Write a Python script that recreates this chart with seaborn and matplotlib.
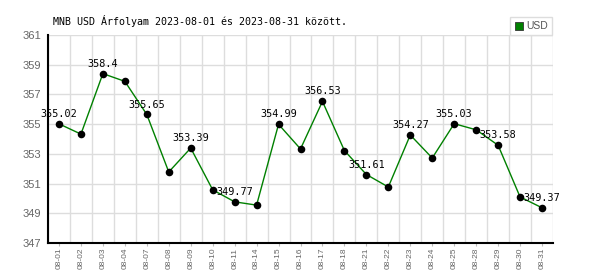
import matplotlib
matplotlib.use("Agg")
import matplotlib.pyplot as plt
import seaborn as sns
import pandas as pd
from matplotlib.patches import Patch

dates = ["08-01", "08-02", "08-03", "08-04", "08-07", "08-08", "08-09", "08-10",
         "08-11", "08-14", "08-15", "08-16", "08-17", "08-18", "08-21", "08-22",
         "08-23", "08-24", "08-25", "08-28", "08-29", "08-30", "08-31"]
rates = [355.02, 354.33, 358.40, 357.88, 355.65, 351.78, 353.39, 350.58,
         349.77, 349.55, 354.99, 353.33, 356.53, 353.22, 351.61, 350.77,
         354.27, 352.72, 355.03, 354.62, 353.58, 350.10, 349.37]
yticks = [347, 349, 351, 353, 355, 357, 359, 361]
title = "MNB USD Árfolyam 2023-08-01 és 2023-08-31 között."
series_name = "USD"

df = pd.DataFrame({"pos": range(len(dates)), "date": dates, "rate": rates})

sns.set_theme(style="white")
plt.rcParams["font.family"] = ["DejaVu Sans Mono", "DejaVu Sans"]

fig = plt.figure(figsize=(6, 2.7), dpi=100)
ax = fig.add_axes([48 / 600, 1 - 243 / 270, (553 - 48) / 600, (243 - 35) / 270])

sns.lineplot(data=df, x="pos", y="rate", color="#008000", linewidth=1, ax=ax,
             zorder=3)
sns.scatterplot(data=df, x="pos", y="rate", color="black", s=30, ax=ax,
                edgecolor="black", linewidth=0, zorder=4)

for i, (p, v) in enumerate(zip(df["pos"], df["rate"])):
    if i % 2 == 0:
        label = f"{v:.2f}"
        if label.endswith("0"):
            label = label[:-1]
        ax.annotate(label, (p, v), xytext=(0, 5),
                    textcoords="offset points", ha="center", va="baseline",
                    fontsize=7.3, color="black", family="DejaVu Sans Mono",
                    zorder=5)

ax.set_xlim(-0.5, len(dates) - 0.5)
ax.set_ylim(yticks[0], yticks[-1])
ax.set_xticks(list(df["pos"]))
ax.set_xticklabels(dates, rotation=90, family="Liberation Sans", fontsize=6,
                   color="#666666")
ax.set_xticks([k - 0.5 for k in range(len(dates) + 1)], minor=True)
ax.set_yticks(yticks)
ax.set_yticklabels([str(t) for t in yticks], family="Liberation Sans",
                   fontsize=8, color="#666666")
ax.set_xlabel("")
ax.set_ylabel("")

ax.grid(False)
ax.grid(which="minor", axis="x", color="#dddddd", linewidth=1)
ax.grid(which="major", axis="y", color="#dddddd", linewidth=1)
ax.set_axisbelow(True)
ax.tick_params(axis="x", which="major", length=2.5, color="#bbbbbb", width=0.8,
               bottom=True, pad=1)
ax.tick_params(axis="x", which="minor", length=0)
ax.tick_params(axis="y", length=0, pad=5)

for s in ["top", "right"]:
    ax.spines[s].set_visible(False)
for s in ["left", "bottom"]:
    ax.spines[s].set_color("black")
    ax.spines[s].set_linewidth(1.5)

fig.text(53 / 600, 1 - 21 / 270, title, ha="left", va="center", fontsize=7.2,
         family="DejaVu Sans Mono", color="black")

handle = Patch(facecolor="#008000", edgecolor="#333333", linewidth=0.6)
leg = fig.legend([handle], [series_name], loc="upper right",
                 bbox_to_anchor=(552 / 600, 1 - 17 / 270), frameon=True,
                 fancybox=False, framealpha=1, edgecolor="#dddddd",
                 handlelength=0.8, handleheight=0.8, handletextpad=0.3,
                 borderpad=0.4, borderaxespad=0,
                 prop={"family": "Liberation Sans", "size": 7.5})
for t in leg.get_texts():
    t.set_color("#555555")

fig.savefig("out.png", dpi=100)
